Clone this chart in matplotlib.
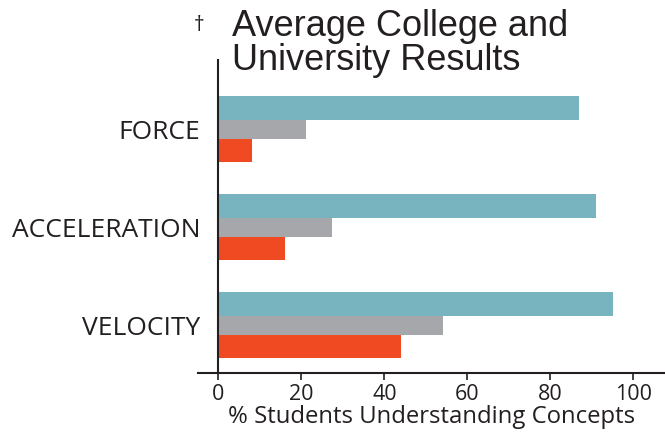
import matplotlib.pyplot as plt

categories = ["VELOCITY", "ACCELERATION", "FORCE"]
teal_vals = [95, 91, 87]
gray_vals = [54, 27.5, 21]
orange_vals = [44, 16, 8]
xticks = [0, 20, 40, 60, 80, 100]

TEXT = "#231F20"
LABEL_FONT = ["Open Sans", "DejaVu Sans"]
TITLE_FONT = ["Liberation Sans", "DejaVu Sans"]

fig = plt.figure(figsize=(6.65, 4.45), dpi=100)
fig.patch.set_facecolor("white")
ax = fig.add_axes([198 / 665, 72 / 445, 467 / 665, 313 / 445])

ypos = list(range(len(categories)))
off = 0.2175
ax.barh([y + off for y in ypos], teal_vals, height=0.24, color="#78B4C0", linewidth=0)
ax.barh(ypos, gray_vals, height=0.195, color="#A6A7AB", linewidth=0)
ax.barh([y - off for y in ypos], orange_vals, height=0.24, color="#F04A23", linewidth=0)

ax.set_xlim(-4.9, 107.6)
ax.set_ylim(-0.49, 2.71)

for side in ("top", "right"):
    ax.spines[side].set_visible(False)
ax.spines["left"].set_position(("data", 0))
for side in ("left", "bottom"):
    ax.spines[side].set_color(TEXT)
    ax.spines[side].set_linewidth(1.5)

ax.set_xticks(xticks)
ax.set_xticklabels([str(t) for t in xticks], family=LABEL_FONT, fontsize=15.5, color=TEXT)
ax.tick_params(axis="x", direction="out", length=5, width=1.2, color=TEXT, pad=3)
ax.set_yticks(ypos)
ax.set_yticklabels(categories, family=LABEL_FONT, fontsize=19, color=TEXT)
ax.tick_params(axis="y", length=0, pad=13)

ax.set_xlabel("% Students Understanding Concepts", family=LABEL_FONT, fontsize=17.2,
              color=TEXT, labelpad=0)

fig.text(232 / 665, 1 - 9 / 445, "Average College and\nUniversity Results",
         family=TITLE_FONT, fontsize=26, color=TEXT, ha="left", va="top",
         linespacing=0.97)
fig.text(194 / 665, 1 - 15 / 445, "\u2020", family=LABEL_FONT, fontsize=15,
         color=TEXT, ha="left", va="top")

fig.savefig("out.png", dpi=100, facecolor="white")
